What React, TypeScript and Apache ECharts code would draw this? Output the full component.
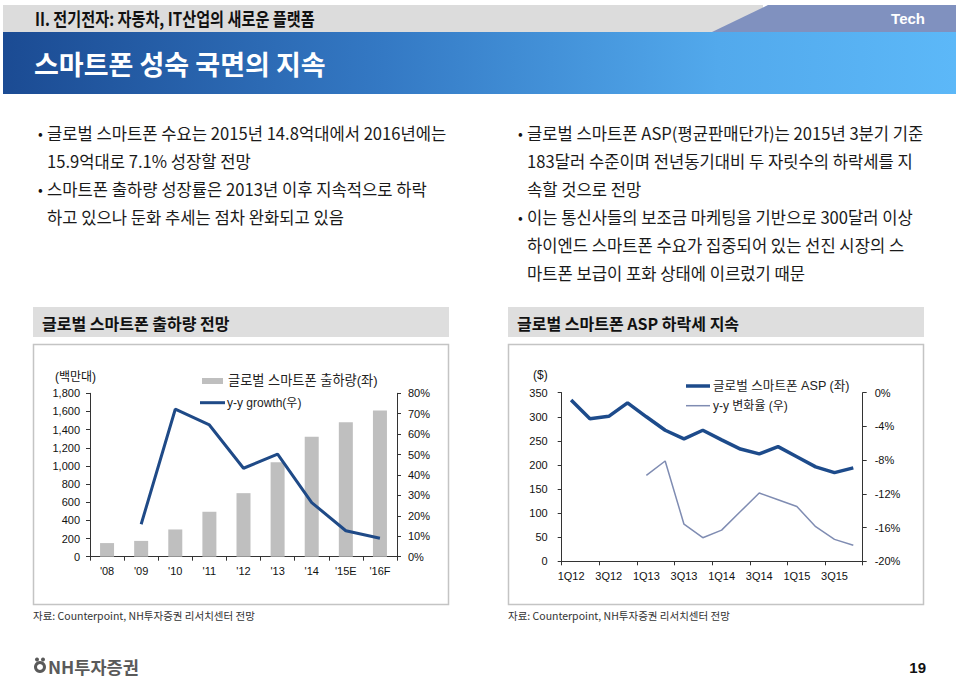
import React, { useEffect, useRef } from "react";
import * as echarts from "echarts";

// ---------- data ----------
const shipYears = ["'08", "'09", "'10", "'11", "'12", "'13", "'14", "'15E", "'16F"];
const shipments = [150, 174, 300, 495, 700, 1040, 1320, 1480, 1610]; // 백만대
const shipGrowth = [null, 15.9, 72.2, 64.5, 43.3, 50.2, 26.5, 12.7, 9.0]; // %

const aspQuarters = [
  "1Q12", "2Q12", "3Q12", "4Q12", "1Q13", "2Q13", "3Q13", "4Q13",
  "1Q14", "2Q14", "3Q14", "4Q14", "1Q15", "2Q15", "3Q15", "4Q15",
];
const aspValues = [335, 296, 301, 329, 300, 272, 254, 272, 252, 233, 223, 238, 217, 196, 184, 194]; // $
const aspGrowth = [null, null, null, null, -9.8, -8.1, -15.6, -17.2, -16.3, -14.1, -11.9, -12.7, -13.5, -15.9, -17.4, -18.1]; // %

const shipAxis = { min: 0, max: 1800, interval: 200 };
const shipGrowthAxis = { min: 0, max: 80, interval: 10 };
const aspAxis = { min: 0, max: 350, interval: 50 };
const aspGrowthAxis = { min: -20, max: 0, interval: 4 };

const headerText = "II. 전기전자: 자동차, IT산업의 새로운 플랫폼";
const titleText = "스마트폰 성숙 국면의 지속";
const leftBullets = [
  ["글로벌 스마트폰 수요는 2015년 14.8억대에서 2016년에는", "15.9억대로 7.1% 성장할 전망"],
  ["스마트폰 출하량 성장률은 2013년 이후 지속적으로 하락", "하고 있으나 둔화 추세는 점차 완화되고 있음"],
];
const rightBullets = [
  ["글로벌 스마트폰 ASP(평균판매단가)는 2015년 3분기 기준", "183달러 수준이며 전년동기대비 두 자릿수의 하락세를 지", "속할 것으로 전망"],
  ["이는 통신사들의 보조금 마케팅을 기반으로 300달러 이상", "하이엔드 스마트폰 수요가 집중되어 있는 선진 시장의 스", "마트폰 보급이 포화 상태에 이르렀기 때문"],
];
const leftSection = "글로벌 스마트폰 출하량 전망";
const rightSection = "글로벌 스마트폰 ASP 하락세 지속";
const sourceText = "자료: Counterpoint, NH투자증권 리서치센터 전망";

const KR = "'Noto Sans CJK KR', 'Noto Sans', sans-serif";
const NUM = "'Liberation Sans', Arial, 'Noto Sans CJK KR', sans-serif";

function txt(x: number, y: number, text: string, style: any = {}, extra: any = {}) {
  return {
    type: "text",
    x,
    y,
    silent: true,
    style: {
      text,
      fill: "#111",
      fontFamily: KR,
      fontSize: 16,
      verticalAlign: "middle",
      align: "left",
      ...style,
    },
    ...extra,
  };
}

function bulletBlock(x: number, startY: number, blocks: string[][]) {
  const out: any[] = [];
  let line = 0;
  blocks.forEach((b) => {
    b.forEach((s, j) => {
      const y = startY + line * 28;
      if (j === 0) out.push(txt(x - 9, y, "•", { fontSize: 14 }));
      out.push(txt(x, y, s, { fontSize: 16.6, fill: "#1a1a1a" }));
      line++;
    });
  });
  return out;
}

export default function App() {
  const ref = useRef<HTMLDivElement>(null);

  useEffect(() => {
    if (!ref.current) return;
    const chart = echarts.init(ref.current, undefined, { renderer: "svg" });

    const axisLineStyle = { color: "#333", width: 1 };
    const labelStyle = { color: "#111", fontSize: 11, fontFamily: NUM };

    const graphics: any[] = [
      // header gray band
      { type: "rect", silent: true, shape: { x: 3, y: 5, width: 760, height: 27 }, style: { fill: "#dcdcdc" } },
      { type: "polygon", silent: true, shape: { points: [[712, 32], [768, 5], [956, 5], [956, 32]] }, style: { fill: "#8091bf" } },
      {
        type: "group",
        x: 35,
        y: 18,
        scaleX: 0.82,
        children: [txt(0, 0, headerText, { fontSize: 18.5, fontWeight: "bold", fill: "#111" })],
      },
      txt(925, 18, "Tech", { fontSize: 15, fontWeight: "bold", fill: "#fff", align: "right", fontFamily: NUM }),
      // blue band
      {
        type: "rect",
        silent: true,
        shape: { x: 3, y: 32, width: 953, height: 62 },
        style: {
          fill: new echarts.graphic.LinearGradient(0, 0, 1, 0, [
            { offset: 0, color: "#1b4b93" },
            { offset: 0.4, color: "#3479c4" },
            { offset: 0.75, color: "#52a9ec" },
            { offset: 1, color: "#5cb8f8" },
          ]),
        },
      },
      txt(34, 63, titleText, { fontSize: 27, fontWeight: "bold", fill: "#fff" }),
      ...bulletBlock(47, 133, leftBullets),
      ...bulletBlock(527, 133, rightBullets),
      // section headers
      { type: "rect", silent: true, shape: { x: 33, y: 307, width: 416, height: 30 }, style: { fill: "#dedede" } },
      txt(42, 323, leftSection, { fontSize: 16, fontWeight: "bold", fill: "#111" }),
      { type: "rect", silent: true, shape: { x: 508, y: 307, width: 416, height: 30 }, style: { fill: "#dedede" } },
      txt(517, 323, rightSection, { fontSize: 16, fontWeight: "bold", fill: "#111" }),
      // chart boxes
      { type: "rect", silent: true, shape: { x: 33.5, y: 344.5, width: 415, height: 260 }, style: { fill: "none", stroke: "#c4c4c4", lineWidth: 1.5 } },
      { type: "rect", silent: true, shape: { x: 508.5, y: 344.5, width: 415, height: 260 }, style: { fill: "none", stroke: "#c4c4c4", lineWidth: 1.5 } },
      // axis units
      txt(55, 377, "(백만대)", { fontSize: 12, fontFamily: NUM }),
      txt(533, 375, "($)", { fontSize: 12, fontFamily: NUM }),
      // left legend
      { type: "rect", silent: true, shape: { x: 202, y: 378, width: 21, height: 6 }, style: { fill: "#bfbfbf" } },
      txt(228, 380.5, "글로벌 스마트폰 출하량(좌)", { fontSize: 13.2, fontFamily: NUM, fill: "#222" }),
      { type: "line", silent: true, shape: { x1: 200, y1: 402.7, x2: 225, y2: 402.7 }, style: { stroke: "#1f4a87", lineWidth: 3 } },
      txt(227, 403, "y-y growth(우)", { fontSize: 12, fontFamily: NUM, fill: "#222" }),
      // right legend
      { type: "line", silent: true, shape: { x1: 686, y1: 386, x2: 710, y2: 386 }, style: { stroke: "#1d4b8b", lineWidth: 3.5 } },
      txt(713, 386, "글로벌 스마트폰 ASP (좌)", { fontSize: 12.6, fontFamily: NUM, fill: "#222" }),
      { type: "line", silent: true, shape: { x1: 686, y1: 405.7, x2: 710, y2: 405.7 }, style: { stroke: "#7f8cb2", lineWidth: 1.5 } },
      txt(713, 405.5, "y-y 변화율 (우)", { fontSize: 12, fontFamily: NUM, fill: "#222" }),
      // sources
      txt(33, 615, sourceText, { fontSize: 10.5, fill: "#333" }),
      txt(508, 615, sourceText, { fontSize: 10.5, fill: "#333" }),
      // logo
      { type: "ring", silent: true, shape: { cx: 40, cy: 667, r: 6, r0: 3 }, style: { fill: "#5a5a5a" } },
      { type: "circle", silent: true, shape: { cx: 37, cy: 659.5, r: 2 }, style: { fill: "#5a5a5a" } },
      { type: "circle", silent: true, shape: { cx: 43, cy: 659.5, r: 2 }, style: { fill: "#5a5a5a" } },
      txt(48, 666, "NH투자증권", { fontSize: 17.5, fontWeight: "bold", fill: "#5a5a5a" }),
      txt(926, 667, "19", { fontSize: 15, fontWeight: "bold", fill: "#111", align: "right", fontFamily: NUM }),
    ];

    const option: any = {
      animation: false,
      textStyle: { fontFamily: NUM },
      graphic: graphics,
      grid: [
        { left: 90, top: 393.3, width: 307, height: 163.4 },
        { left: 561.7, top: 392.7, width: 301, height: 168.6 },
      ],
      xAxis: [
        {
          gridIndex: 0,
          type: "category",
          data: shipYears,
          boundaryGap: true,
          axisLine: { lineStyle: axisLineStyle },
          axisTick: { show: true, length: 4, interval: 0, lineStyle: axisLineStyle },
          axisLabel: { ...labelStyle, margin: 9, interval: 0 },
        },
        {
          gridIndex: 1,
          type: "category",
          data: aspQuarters,
          boundaryGap: true,
          axisLine: { lineStyle: axisLineStyle },
          axisTick: { show: true, length: 4, interval: 1, lineStyle: axisLineStyle },
          axisLabel: { ...labelStyle, margin: 9, interval: 1 },
        },
      ],
      yAxis: [
        {
          gridIndex: 0,
          type: "value",
          ...shipAxis,
          axisLine: { show: true, lineStyle: axisLineStyle },
          axisTick: { show: true, length: 4, lineStyle: axisLineStyle },
          splitLine: { show: false },
          axisLabel: { ...labelStyle, margin: 10, formatter: (v: number) => v.toLocaleString("en-US") },
        },
        {
          gridIndex: 0,
          type: "value",
          position: "right",
          ...shipGrowthAxis,
          axisLine: { show: true, lineStyle: axisLineStyle },
          axisTick: { show: true, length: 4, lineStyle: axisLineStyle },
          splitLine: { show: false },
          axisLabel: { ...labelStyle, margin: 11, formatter: "{value}%" },
        },
        {
          gridIndex: 1,
          type: "value",
          ...aspAxis,
          axisLine: { show: true, lineStyle: axisLineStyle },
          axisTick: { show: true, length: 4, lineStyle: axisLineStyle },
          splitLine: { show: false },
          axisLabel: { ...labelStyle, margin: 14 },
        },
        {
          gridIndex: 1,
          type: "value",
          position: "right",
          ...aspGrowthAxis,
          axisLine: { show: true, lineStyle: axisLineStyle },
          axisTick: { show: true, length: 4, lineStyle: axisLineStyle },
          splitLine: { show: false },
          axisLabel: { ...labelStyle, margin: 12, formatter: "{value}%" },
        },
      ],
      series: [
        {
          name: "글로벌 스마트폰 출하량(좌)",
          type: "bar",
          xAxisIndex: 0,
          yAxisIndex: 0,
          data: shipments,
          barWidth: 14,
          itemStyle: { color: "#bfbfbf" },
        },
        {
          name: "y-y growth(우)",
          type: "line",
          xAxisIndex: 0,
          yAxisIndex: 1,
          data: shipGrowth,
          symbol: "none",
          lineStyle: { color: "#1f4a87", width: 3 },
          z: 5,
        },
        {
          name: "글로벌 스마트폰 ASP (좌)",
          type: "line",
          xAxisIndex: 1,
          yAxisIndex: 2,
          data: aspValues,
          symbol: "none",
          lineStyle: { color: "#1d4b8b", width: 3.5 },
        },
        {
          name: "y-y 변화율 (우)",
          type: "line",
          xAxisIndex: 1,
          yAxisIndex: 3,
          data: aspGrowth,
          symbol: "none",
          lineStyle: { color: "#7f8cb2", width: 1.5 },
        },
      ],
    };

    chart.setOption(option);
    return () => chart.dispose();
  }, []);

  return (
    <div
      ref={ref}
      style={{ position: "absolute", left: 0, top: 0, width: 960, height: 678, background: "#fff" }}
    />
  );
}
